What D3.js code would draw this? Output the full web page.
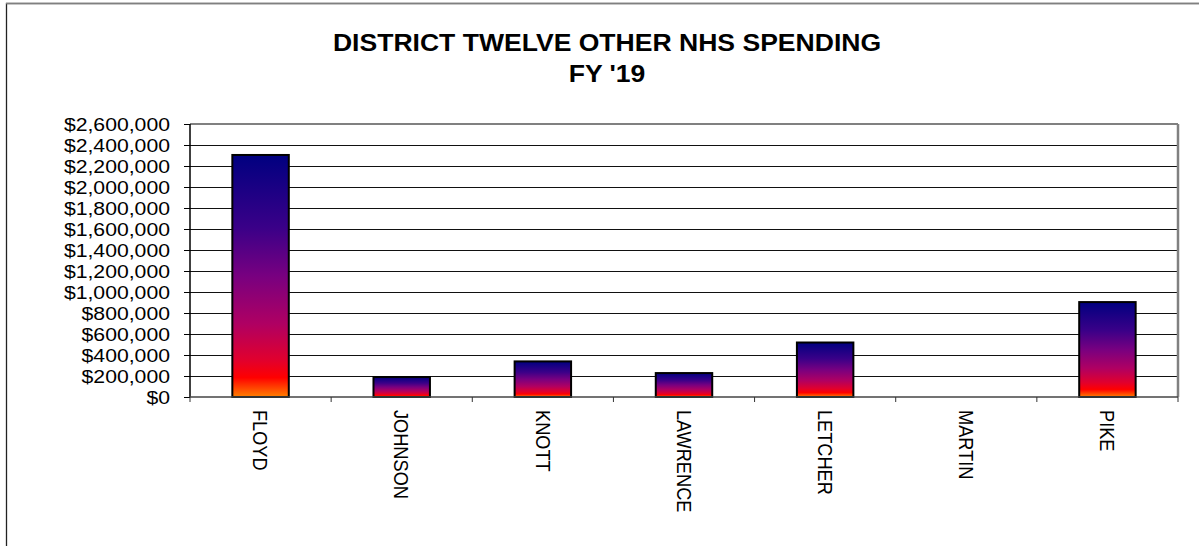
<!DOCTYPE html>
<html>
<head>
<meta charset="utf-8">
<script src="https://cdn.jsdelivr.net/npm/d3@7"></script>
<style>
  html, body { margin: 0; padding: 0; background: #fff; }
  svg { display: block; }
  text { font-family: Arial, "Liberation Sans", sans-serif; fill: #000; }
</style>
</head>
<body>
<svg id="chart" width="1199" height="546"></svg>
<script>
const titleLines = ["DISTRICT TWELVE OTHER NHS SPENDING", "FY '19"];
const categories = ["FLOYD", "JOHNSON", "KNOTT", "LAWRENCE", "LETCHER", "MARTIN", "PIKE"];
const values = [2305000, 190000, 339000, 228000, 519000, 0, 904000];
const yTickValues = [0, 200000, 400000, 600000, 800000, 1000000, 1200000, 1400000, 1600000, 1800000, 2000000, 2200000, 2400000, 2600000];

const svg = d3.select("#chart");
const W = 1199, H = 546;
const plot = { left: 190, right: 1178, top: 124, bottom: 397 };
const sx = 1.14; // horizontal stretch of the original picture

// outer chart border
svg.append("rect").attr("x", 6.5).attr("y", 3.5).attr("width", 1300).attr("height", 700)
  .attr("fill", "#fff").attr("stroke", "#222").attr("stroke-width", 1.3);
svg.append("line").attr("x1", 6).attr("x2", W).attr("y1", 3.5).attr("y2", 3.5)
  .attr("stroke", "#808080").attr("stroke-width", 1.5);

// title
const title = svg.append("g");
titleLines.forEach((t, i) => {
  title.append("text")
    .attr("transform", `translate(607,${51 + i * 31}) scale(${sx},1)`)
    .attr("text-anchor", "middle")
    .attr("font-weight", "bold")
    .attr("font-size", 23.3)
    .text(t);
});

const x = d3.scaleBand().domain(categories).range([plot.left, plot.right]).padding(0);
const y = d3.scaleLinear().domain([0, 2600000]).range([plot.bottom, plot.top]);

// gradient (per bar)
const defs = svg.append("defs");
const grad = defs.append("linearGradient").attr("id", "fire")
  .attr("x1", 0).attr("y1", 0).attr("x2", 0).attr("y2", 1);
[[0, "#000080"], [0.3, "#3a0088"], [0.5, "#780080"], [0.7, "#b00062"], [0.85, "#e2002c"],
 [0.92, "#ff0000"], [1, "#ff8000"]].forEach(([o, c]) =>
  grad.append("stop").attr("offset", o).attr("stop-color", c));

// gridlines
svg.append("g")
  .attr("transform", `translate(${plot.left},0)`)
  .call(d3.axisLeft(y).tickValues(yTickValues.filter(v => v > 0 && v < 2600000))
    .tickSize(-(plot.right - plot.left)).tickFormat(""))
  .call(g => g.select(".domain").remove())
  .call(g => g.selectAll(".tick line").attr("stroke", "#111").attr("stroke-width", 1));

// plot border top/right
svg.append("line").attr("x1", plot.left).attr("x2", plot.right).attr("y1", plot.top).attr("y2", plot.top)
  .attr("stroke", "#808080").attr("stroke-width", 2);
svg.append("line").attr("x1", plot.right).attr("x2", plot.right).attr("y1", plot.top).attr("y2", plot.bottom)
  .attr("stroke", "#808080").attr("stroke-width", 2.5);

// bars
const bw = x.step() * 0.4;
svg.append("g").selectAll("rect").data(categories.map((c, i) => ({ c, v: values[i] })))
  .join("rect")
  .attr("x", d => x(d.c) + (x.step() - bw) / 2)
  .attr("y", d => y(d.v))
  .attr("width", bw)
  .attr("height", d => y(0) - y(d.v))
  .attr("fill", "url(#fire)")
  .attr("stroke", d => d.v > 0 ? "#000" : "none")
  .attr("stroke-width", 2);

// y axis
const yAxis = svg.append("g")
  .attr("transform", `translate(${plot.left},0)`)
  .call(d3.axisLeft(y).tickValues(yTickValues).tickSize(6).tickPadding(0)
    .tickFormat(d => "$" + d3.format(",")(d)));
yAxis.select(".domain").attr("stroke", "#000").attr("stroke-width", 1.5).attr("d", `M0,${plot.top}V${plot.bottom}`);
yAxis.selectAll(".tick line").attr("stroke", "#000");
yAxis.selectAll(".tick text").each(function () {
  const t = d3.select(this);
  t.attr("x", null).attr("dy", "0.35em")
    .attr("transform", `translate(-20,0) scale(${sx},1)`)
    .attr("font-size", 18.6).attr("font-family", "Arial, 'Liberation Sans', sans-serif")
    .attr("text-anchor", "end").attr("fill", "#000");
});

// x axis
const xAxis = svg.append("g")
  .attr("transform", `translate(0,${plot.bottom})`)
  .call(d3.axisBottom(x).tickSize(0).tickFormat(""));
xAxis.select(".domain").attr("stroke", "#444").attr("stroke-width", 1.5)
  .attr("d", `M${plot.left},0H${plot.right}`);
xAxis.selectAll(".tick").remove();
// boundary ticks
const bounds = categories.map(c => x(c)).concat([plot.right]);
xAxis.selectAll(".btick").data(bounds).join("line").attr("class", "btick")
  .attr("x1", d => d).attr("x2", d => d).attr("y1", 0).attr("y2", 5)
  .attr("stroke", "#333").attr("stroke-width", 1);

// category labels rotated
svg.append("g").selectAll("text").data(categories).join("text")
  .attr("transform", d => `translate(${x(d) + x.step() / 2},410) scale(${sx},1) rotate(90)`)
  .attr("dy", "0.35em")
  .attr("font-size", 18.2)
  .attr("text-anchor", "start")
  .text(d => d);
</script>
</body>
</html>
